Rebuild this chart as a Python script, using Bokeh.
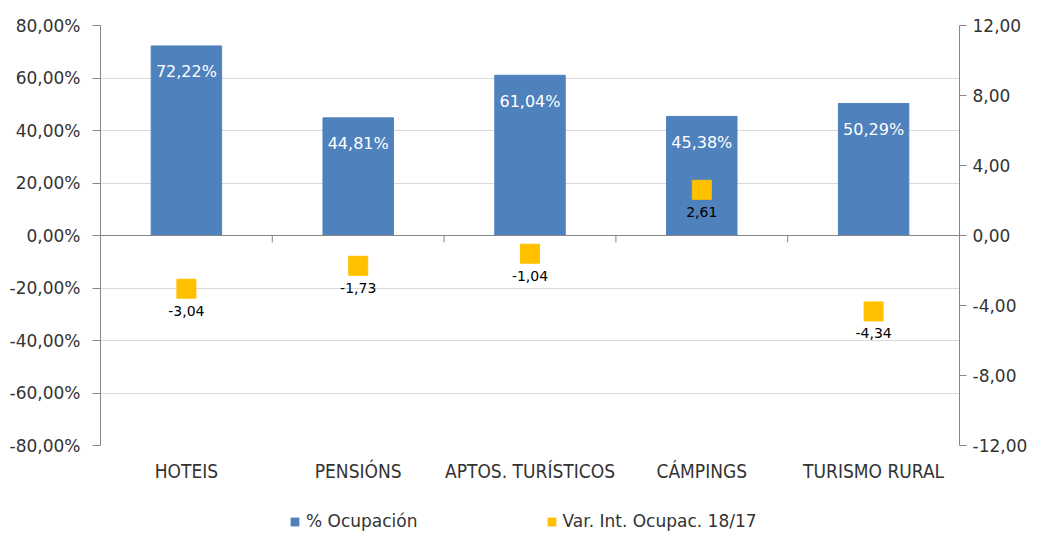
from bokeh.plotting import figure
from bokeh.layouts import column
from bokeh.models import (Range1d, LinearAxis, FixedTicker, ColumnDataSource, LabelSet,
                          Span, Legend, LegendItem)
from bokeh.core.properties import value
from bokeh.embed import file_html
from bokeh.resources import INLINE

categories = ["HOTEIS", "PENSIÓNS", "APTOS. TURÍSTICOS", "CÁMPINGS", "TURISMO RURAL"]
ocupacion = [72.22, 44.81, 61.04, 45.38, 50.29]
variacion = [-3.04, -1.73, -1.04, 2.61, -4.34]
ocupacion_labels = ["72,22%", "44,81%", "61,04%", "45,38%", "50,29%"]
variacion_labels = ["-3,04", "-1,73", "-1,04", "2,61", "-4,34"]
left_ticks = [-80, -60, -40, -20, 0, 20, 40, 60, 80]
left_tick_labels = ["-80,00%", "-60,00%", "-40,00%", "-20,00%", "0,00%", "20,00%", "40,00%", "60,00%", "80,00%"]
right_ticks = [-12, -8, -4, 0, 4, 8, 12]
right_tick_labels = ["-12,00", "-8,00", "-4,00", "0,00", "4,00", "8,00", "12,00"]
legend_names = ["% Ocupación", "Var. Int. Ocupac. 18/17"]

BLUE = "#4F81BD"
YELLOW = "#FFC000"
AXIS = "#868686"
GRID = "#D9D9D9"
TXT = "#333333"
FONT = "DejaVu Sans"
CATFONT = "'DejaVu Sans Condensed', 'Liberation Sans Narrow', 'Liberation Sans', sans-serif"

xs = list(range(len(categories)))
src = ColumnDataSource(dict(x=xs, ocup=ocupacion, var=variacion,
                            olab=ocupacion_labels, vlab=variacion_labels))

p = figure(width=1030, height=510, output_backend="svg", toolbar_location=None,
           x_range=Range1d(-0.5, len(categories) - 0.5), y_range=Range1d(-80, 80),
           min_border_left=100, min_border_right=68, min_border_top=25, min_border_bottom=65,
           x_axis_location=None, y_axis_location=None)
p.outline_line_color = None
p.background_fill_color = "white"
p.border_fill_color = "white"
p.extra_y_ranges = {"right": Range1d(-12, 12)}

def style_axis(ax):
    ax.axis_line_color = AXIS
    ax.major_tick_line_color = AXIS
    ax.major_tick_out = 8
    ax.major_tick_in = 0
    ax.minor_tick_line_color = None
    ax.major_label_text_font = FONT
    ax.major_label_text_font_size = "17px"
    ax.major_label_text_color = TXT

la = LinearAxis(ticker=FixedTicker(ticks=left_ticks))
la.major_label_overrides = {t: l for t, l in zip(left_ticks, left_tick_labels)}
style_axis(la)
la.major_label_standoff = 12
p.add_layout(la, "left")

ra = LinearAxis(y_range_name="right", ticker=FixedTicker(ticks=right_ticks))
ra.major_label_overrides = {t: l for t, l in zip(right_ticks, right_tick_labels)}
style_axis(ra)
ra.major_tick_out = 7
ra.major_label_standoff = 6
p.add_layout(ra, "right")

ba = LinearAxis(ticker=FixedTicker(ticks=xs))
ba.major_label_overrides = {i: c for i, c in zip(xs, categories)}
ba.axis_line_color = None
ba.major_tick_line_color = None
ba.minor_tick_line_color = None
ba.major_label_text_font = CATFONT
ba.major_label_text_font_size = "19px"
ba.major_label_text_color = TXT
ba.major_label_standoff = 8
p.add_layout(ba, "below")

p.xgrid.visible = False
p.ygrid.ticker = FixedTicker(ticks=left_ticks)
p.ygrid.grid_line_color = GRID
p.ygrid.grid_line_width = 1

bars = p.vbar(x="x", top="ocup", bottom=0, width=0.41, source=src,
              fill_color=BLUE, line_color=BLUE)

p.add_layout(Span(location=0, dimension="width", line_color=AXIS, line_width=1))
bounds = [i + 0.5 for i in xs[:-1]]
p.segment(x0=bounds, y0=[0] * len(bounds), x1=bounds, y1=[-2.6] * len(bounds),
          line_color=AXIS, line_width=1)

pts = p.scatter(x="x", y="var", source=src, marker="square", size=19,
                fill_color=YELLOW, line_color=YELLOW, y_range_name="right")

p.add_layout(LabelSet(x="x", y="ocup", text="olab", source=src, text_color="white",
                      text_font=value(FONT), text_font_size="16px", text_align="center",
                      text_baseline="middle", y_offset=-26))
p.add_layout(LabelSet(x="x", y="var", text="vlab", source=src, text_color="black",
                      text_font=value(FONT), text_font_size="14px", text_align="center",
                      text_baseline="middle", y_offset=-22, y_range_name="right"))

# legend strip below the chart (its frame is aligned with the chart's frame)
q = figure(width=1030, height=22, output_backend="svg", toolbar_location=None,
           x_range=Range1d(0, 1), y_range=Range1d(0, 1),
           min_border=0, x_axis_location=None, y_axis_location=None)
q.outline_line_color = None
q.xgrid.visible = False
q.ygrid.visible = False
lg1 = q.vbar(x=[0.5], top=[0], bottom=[0], width=0.0, fill_color=BLUE, line_color=None)
lg2 = q.vbar(x=[0.5], top=[0], bottom=[0], width=0.0, fill_color=YELLOW, line_color=None)
legend = Legend(items=[LegendItem(label=legend_names[0], renderers=[lg1]),
                       LegendItem(label=legend_names[1], renderers=[lg2])],
                orientation="horizontal", location=(189, 1),
                glyph_width=11, glyph_height=11, label_standoff=6, spacing=128,
                padding=0, margin=0, border_line_color=None,
                background_fill_alpha=0, label_text_font=FONT,
                label_text_font_size="17px", label_text_color=TXT)
q.add_layout(legend, "center")

open("out.html", "w").write(file_html(column(p, q, spacing=0), INLINE))
